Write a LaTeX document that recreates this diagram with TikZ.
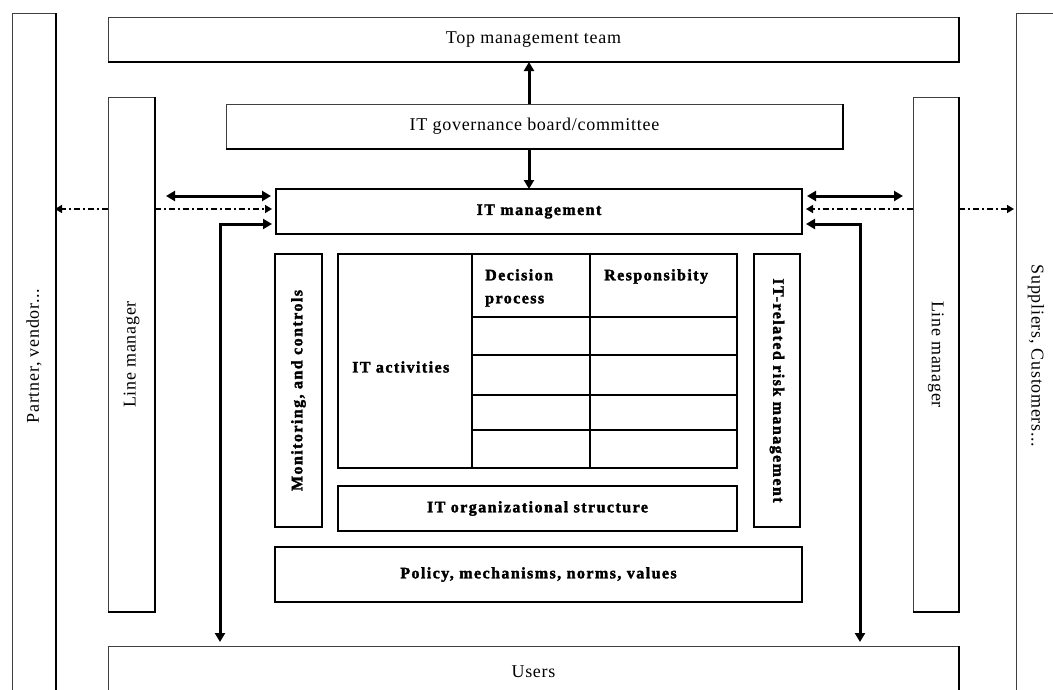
\documentclass[tikz,border=0pt]{standalone}
\usepackage{fontspec}
\usetikzlibrary{arrows.meta,calc}
\newfontfamily\regfont[LetterSpace=4]{Liberation Serif}
\newfontfamily\heavyfont[LetterSpace=9,FakeBold=2]{Liberation Serif Bold}
\newcommand\regtext{\regfont\fontsize{18}{21}\selectfont}
\newcommand\heavytext{\heavyfont\fontsize{16}{19}\selectfont}

\begin{document}
\begin{tikzpicture}[x=1pt,y=-1pt,
  softbox/.style={draw=black!75, line width=0.9pt, fill=white, inner sep=0pt, outer sep=0pt,
    anchor=north west, font=\regtext},
  hardbox/.style={draw=black, line width=2pt, fill=white, inner sep=0pt, outer sep=0pt,
    anchor=north west, font=\heavytext},
  rim/.style={draw=black, line width=1.6pt},
  rule/.style={draw=black, line width=2pt},
  celltext/.style={font=\heavytext, inner sep=0pt},
  flow/.style={line width=3pt, {Triangle[length=9pt,width=10pt]}-{Triangle[length=9pt,width=10pt]}},
  flowto/.style={line width=3pt, -{Triangle[length=9pt,width=10pt]}},
  link/.style={line width=1.5pt, dash pattern=on 6pt off 3pt on 2pt off 3pt,
    -{Triangle[length=7pt,width=8pt]}}
]
\useasboundingbox (0,0) rectangle (1053,689);
\clip (0,0) rectangle (1053,689);

% outer partners
\node[softbox, minimum width=44pt, minimum height=686pt] (partner) at (12,13)
  {\rotatebox{90}{Partner, vendor...}};
\node[softbox, minimum width=40pt, minimum height=686pt] (supp) at (1016,13)
  {\rotatebox{-90}{Suppliers, Customers...}};

% management layers
\node[softbox, minimum width=851pt, minimum height=45pt] (top) at (108,17) {Top management team};
\node[softbox, minimum width=617pt, minimum height=45pt] (board) at (226,104) {IT governance board/committee};
\node[softbox, minimum width=47pt, minimum height=515pt] (lmL) at (108,97)
  {\rotatebox{90}{Line manager}};
\node[softbox, minimum width=46pt, minimum height=515pt] (lmR) at (913,97)
  {\rotatebox{-90}{Line manager}};
\node[softbox, minimum width=851pt, minimum height=52pt] (users) at (108,646) {Users};

% heavier edges on the right and bottom of the light boxes
\foreach \n in {partner,supp,top,board,lmL,lmR,users}
  \draw[rim] (\n.north east) -- (\n.south east) -- (\n.south west);

% IT core
\node[hardbox, minimum width=526pt, minimum height=45pt] (itm) at (276,189) {IT management};
\node[hardbox, minimum width=47pt, minimum height=273pt] (mon) at (275,254)
  {\rotatebox{90}{Monitoring, and controls}};
\node[hardbox, minimum width=46pt, minimum height=273pt] (risk) at (754,254)
  {\rotatebox{-90}{IT-related risk management}};
\node[hardbox, minimum width=399pt, minimum height=214pt] (acts) at (338,254) {};
\node[hardbox, minimum width=399pt, minimum height=45pt] (org) at (338,486) {IT organizational structure};
\node[hardbox, minimum width=527pt, minimum height=55pt] (policy) at (275,547) {Policy, mechanisms, norms, values};

% activity grid
\draw[rule] (472,254) -- (472,468);
\draw[rule] (590,254) -- (590,468);
\foreach \yy in {317,355,395,430}
  \draw[rule] (472,\yy) -- (737,\yy);
\node[celltext, anchor=west] (acttxt) at (352,367) {IT activities};
\node[celltext, anchor=north west, align=left] (dec) at (485,269) {Decision\\[4pt]process};
\node[celltext, anchor=north west] (resp) at (604,269) {Responsibity};

% connector rows and columns
\coordinate (rowA) at (0,196);
\coordinate (rowD) at (0,209);
\coordinate (rowE) at (0,224);
\coordinate (colL) at (220,0);
\coordinate (colR) at (860,0);
\coordinate (lend) at (166,196);
\coordinate (rend) at (903,196);

% vertical flows between layers
\draw[flowto] ([xshift=-5.5pt]board.north) -- ([xshift=-5.5pt]board.north |- top.south);
\draw[flowto] ([xshift=-5.5pt]board.south) -- ([xshift=-5.5pt]board.south |- itm.north);

% exchanges with line managers
\draw[flow] (lend) -- ([xshift=-5pt]itm.west |- rowA);
\draw[flow] ([xshift=5pt]itm.east |- rowA) -- (rend);
\draw[link] (lmL.west |- rowD) -- ([xshift=-1pt]partner.east |- rowD);
\draw[link] (lmL.east |- rowD) -- ([xshift=-4pt]itm.west |- rowD);
\draw[link] (lmR.west |- rowD) -- ([xshift=4pt]itm.east |- rowD);
\draw[link] (lmR.east |- rowD) -- ([xshift=-2pt]supp.west |- rowD);

% users to IT management
\draw[flow] ($(colL |- users.north)+(0,-4)$) -- (colL |- rowE) -- ([xshift=-4pt]itm.west |- rowE);
\draw[flow] ($(colR |- users.north)+(0,-4)$) -- (colR |- rowE) -- ([xshift=4pt]itm.east |- rowE);
\end{tikzpicture}
\end{document}
